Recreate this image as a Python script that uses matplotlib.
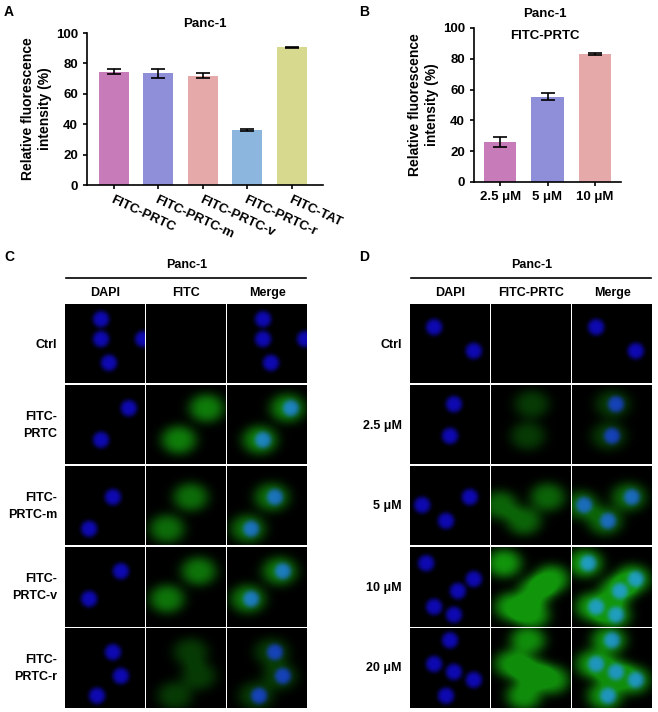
import numpy as np
import matplotlib.pyplot as plt

plt.rcParams['font.family'] = ['Liberation Sans', 'DejaVu Sans']

W, H = 658, 712

# Panel A data
a_labels = ["FITC-PRTC", "FITC-PRTC-m", "FITC-PRTC-v", "FITC-PRTC-r", "FITC-TAT"]
a_values = [74.5, 73.5, 72.0, 36.0, 90.5]
a_errors = [1.5, 3.0, 1.5, 0.8, 0.6]
a_colors = ["#c77cb9", "#8e8fd8", "#e5a9a9", "#8cb6de", "#d6d98e"]

# Panel B data
b_labels = ["2.5 \u03bcM", "5 \u03bcM", "10 \u03bcM"]
b_values = [26.0, 55.5, 83.0]
b_errors = [3.0, 2.5, 0.8]
b_colors = ["#c77cb9", "#8e8fd8", "#e5a9a9"]

# Panel C / D labels
c_rows = ["Ctrl", "FITC-\nPRTC", "FITC-\nPRTC-m", "FITC-\nPRTC-v", "FITC-\nPRTC-r"]
c_cols = ["DAPI", "FITC", "Merge"]
d_rows = ["Ctrl", "2.5 \u03bcM", "5 \u03bcM", "10 \u03bcM", "20 \u03bcM"]
d_cols = ["DAPI", "FITC-PRTC", "Merge"]

# approximate cell nuclei (x, y in 0..1) per image row, and green uptake level
c_cells = [
    [(0.45, 0.2), (0.45, 0.45), (0.55, 0.75), (0.98, 0.45)],
    [(0.8, 0.3), (0.45, 0.7)],
    [(0.6, 0.4), (0.3, 0.8)],
    [(0.7, 0.3), (0.3, 0.65)],
    [(0.6, 0.3), (0.7, 0.6), (0.4, 0.85)],
]
c_green = [0.0, 0.75, 0.65, 0.7, 0.35]
d_cells = [
    [(0.3, 0.3), (0.8, 0.6)],
    [(0.55, 0.25), (0.5, 0.65)],
    [(0.15, 0.5), (0.45, 0.7), (0.75, 0.4)],
    [(0.2, 0.2), (0.3, 0.75), (0.6, 0.55), (0.55, 0.85), (0.8, 0.4)],
    [(0.3, 0.45), (0.5, 0.15), (0.55, 0.55), (0.45, 0.85), (0.8, 0.65)],
]
d_green = [0.0, 0.35, 0.6, 0.9, 0.85]


def px_axes(fig, x0, y0, x1, y1):
    return fig.add_axes([x0 / W, 1 - y1 / H, (x1 - x0) / W, (y1 - y0) / H])


def style_bar_axes(ax):
    for s in ["top", "right"]:
        ax.spines[s].set_visible(False)
    for s in ["left", "bottom"]:
        ax.spines[s].set_linewidth(1.2)
    ax.set_ylim(0, 100)
    ax.set_yticks(range(0, 101, 20))
    ax.tick_params(labelsize=9.5, width=1.2, length=3)
    for t in ax.get_yticklabels() + ax.get_xticklabels():
        t.set_fontweight("bold")


def make_image(cells, green, channel):
    n = 120
    yy, xx = np.mgrid[0:1:n * 1j, 0:1:n * 1j]
    img = np.zeros((n, n, 3))
    blue = np.zeros((n, n))
    gr = np.zeros((n, n))
    for cx, cy in cells:
        blue += np.exp(-(((xx - cx) ** 2 + (yy - cy) ** 2) / (2 * 0.075 ** 2)) ** 2)
        gr += np.exp(-((xx - cx + 0.04) ** 2 / (2 * 0.16 ** 2) + (yy - cy) ** 2 / (2 * 0.13 ** 2)) ** 1.5)
    blue = np.clip(blue, 0, 1) * 0.7
    gr = np.clip(gr, 0, 1) * green * 0.65
    if channel in (0, 2):
        img[..., 2] += blue
        img[..., 0] += blue * 0.08
        img[..., 1] += blue * 0.05
    if channel in (1, 2):
        img[..., 1] += gr
        img[..., 0] += gr * 0.12
        img[..., 2] += gr * 0.08
    return np.clip(img, 0, 1)


fig = plt.figure(figsize=(W / 100, H / 100), dpi=100)

# Panel A
ax = px_axes(fig, 87, 33, 323, 185)
xa = np.arange(len(a_values))
ax.bar(xa, a_values, width=0.68, color=a_colors)
ax.errorbar(xa, a_values, yerr=a_errors, fmt="none", ecolor="black", capsize=5, elinewidth=1.2, capthick=1.2)
ax.set_xticks(xa)
ax.set_xticklabels(a_labels, rotation=-25, ha="left", rotation_mode="anchor")
ax.set_xlim(-0.6, len(a_values) - 0.3)
style_bar_axes(ax)
ax.set_ylabel("Relative fluorescence\nintensity (%)", fontsize=10, fontweight="bold", labelpad=3)
ax.set_title("Panc-1", fontsize=9.5, fontweight="bold", pad=4)
fig.text(4 / W, 1 - 12 / H, "A", fontsize=10, fontweight="bold", va="center")

# Panel B
ax = px_axes(fig, 474, 28, 621, 182)
xb = np.arange(len(b_values))
ax.bar(xb, b_values, width=0.68, color=b_colors)
ax.errorbar(xb, b_values, yerr=b_errors, fmt="none", ecolor="black", capsize=5, elinewidth=1.2, capthick=1.2)
ax.set_xticks(xb)
ax.set_xticklabels(b_labels)
ax.set_xlim(-0.55, len(b_values) - 0.45)
style_bar_axes(ax)
ax.set_ylabel("Relative fluorescence\nintensity (%)", fontsize=10, fontweight="bold", labelpad=3)
fig.text(545 / W, 1 - 14 / H, "Panc-1", fontsize=9.5, fontweight="bold", ha="center", va="center")
fig.text(545 / W, 1 - 36 / H, "FITC-PRTC", fontsize=9.5, fontweight="bold", ha="center", va="center")
fig.text(359 / W, 1 - 12 / H, "B", fontsize=10, fontweight="bold", va="center")


def image_panel(letter, lx, x0, rows, cols, cells, greens):
    cw, rh = 81, 81
    top = 304
    fig.text(lx / W, 1 - 257 / H, letter, fontsize=10, fontweight="bold", va="center")
    mid = x0 + 1.5 * cw
    fig.text(mid / W, 1 - 265 / H, "Panc-1", fontsize=9, fontweight="bold", ha="center", va="center")
    fig.add_artist(plt.Line2D([(x0 + 1) / W, (x0 + 3 * cw - 2) / W], [1 - 278 / H] * 2, color="black", lw=1.2))
    for j, c in enumerate(cols):
        fig.text((x0 + (j + 0.5) * cw) / W, 1 - 293 / H, c, fontsize=9, fontweight="bold", ha="center", va="center")
    for i, r in enumerate(rows):
        y0 = top + i * rh
        fig.text((x0 - 8) / W, 1 - (y0 + rh / 2) / H, r, fontsize=9, fontweight="bold", ha="right", va="center", linespacing=1.6)
        for j in range(3):
            a = px_axes(fig, x0 + j * cw, y0, x0 + (j + 1) * cw - 1.5, y0 + rh - 1.5)
            a.imshow(make_image(cells[i], greens[i], j), extent=(0, 1, 1, 0), interpolation="bilinear")
            a.set_xticks([])
            a.set_yticks([])
            for s in a.spines.values():
                s.set_visible(False)


image_panel("C", 4, 65, c_rows, c_cols, c_cells, c_green)
image_panel("D", 359, 410, d_rows, d_cols, d_cells, d_green)

fig.savefig("out.png", dpi=100)
